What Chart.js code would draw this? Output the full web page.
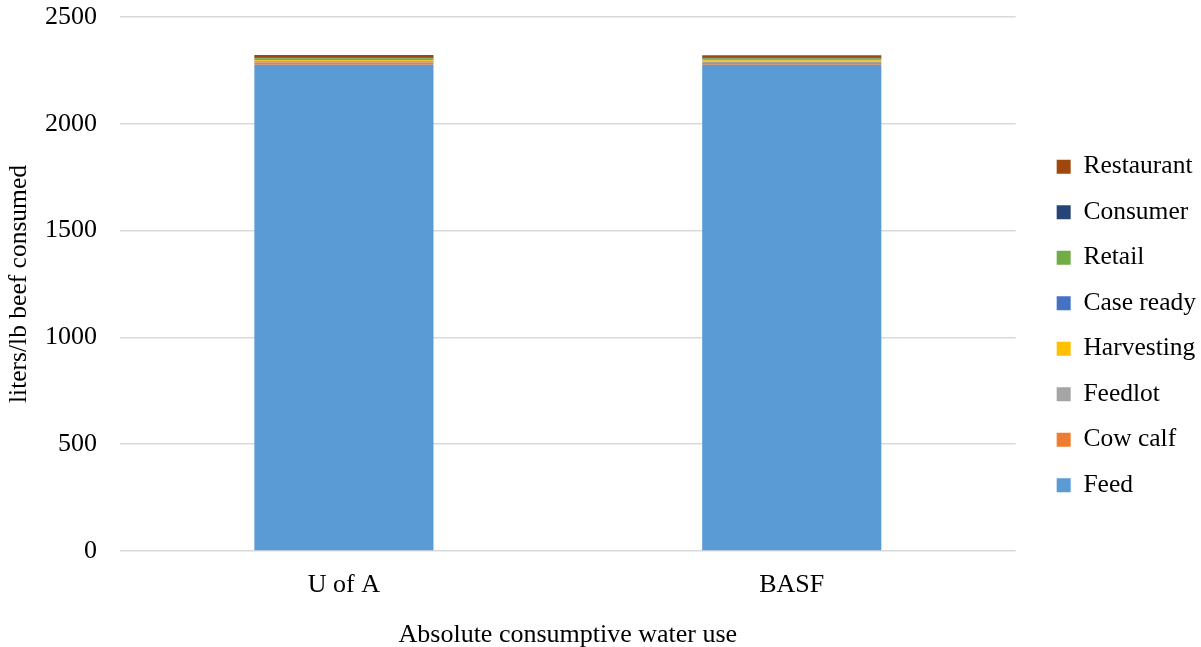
<!DOCTYPE html>
<html>
<head>
<meta charset="utf-8">
<script src="https://cdn.jsdelivr.net/npm/chart.js@4/dist/chart.umd.min.js"></script>
<style>
  html, body { margin: 0; padding: 0; background: #fff; }
  #wrap { width: 1201px; height: 647px; }
</style>
</head>
<body>
<div id="wrap"><canvas id="waterChart" width="1201" height="647"></canvas></div>
<script>
// chart data
const categories = ['U of A', 'BASF'];
const stages = ['Feed', 'Cow calf', 'Feedlot', 'Harvesting', 'Case ready', 'Retail', 'Consumer', 'Restaurant'];
const feed = [2277, 2276];
const cowCalf = [10, 9];
const feedlot = [7, 7];
const harvesting = [4, 5];
const caseReady = [4, 4];
const retail = [5, 5];
const consumer = [5, 5];
const restaurant = [10, 10];
const yTicks = [0, 500, 1000, 1500, 2000, 2500];

const stageColors = ['#5B9BD5', '#ED7D31', '#A5A5A5', '#FFC000', '#4472C4', '#70AD47', '#264478', '#9E480E'];
const stageValues = [feed, cowCalf, feedlot, harvesting, caseReady, retail, consumer, restaurant];

const serif = "'Liberation Serif', 'Times New Roman', serif";

const datasets = stages.map((name, i) => ({
    label: name,
    data: stageValues[i],
    backgroundColor: stageColors[i],
    borderWidth: 0,
    categoryPercentage: 0.8,
    barPercentage: 0.5
}));

// push the legend a bit away from the plot, like the original
const legendGap = {
    id: 'legendGap',
    afterLayout(chart) {
        const lg = chart.legend;
        if (lg) {
            lg.left = chart.chartArea.right + 21;
            lg.right = chart.width;
            lg.width = lg.right - lg.left;
            lg.top -= 6;
            lg.bottom -= 6;
        }
    }
};

new Chart(document.getElementById('waterChart'), {
    type: 'bar',
    data: { labels: categories, datasets },
    plugins: [legendGap],
    options: {
        responsive: false,
        animation: false,
        layout: { padding: { top: 17, right: 16, left: 0, bottom: 0 } },
        plugins: {
            tooltip: { enabled: false },
            legend: {
                position: 'right',
                reverse: true,
                labels: {
                    boxWidth: 14,
                    boxHeight: 14,
                    padding: 20,
                    color: '#000',
                    font: { family: serif, size: 25.5 }
                }
            }
        },
        scales: {
            x: {
                stacked: true,
                grid: { display: false },
                border: { display: false },
                ticks: { color: '#000', padding: 11, font: { family: serif, size: 26 } },
                title: {
                    display: true,
                    text: 'Absolute consumptive water use',
                    color: '#000',
                    padding: { top: 10, bottom: -4 },
                    font: { family: serif, size: 26 }
                },
                afterFit: (scale) => { scale.height = 96; }
            },
            y: {
                stacked: true,
                min: 0,
                max: 2500,
                afterBuildTicks: (scale) => { scale.ticks = yTicks.map(v => ({ value: v })); },
                grid: { color: '#d9d9d9', lineWidth: 1.5, drawTicks: false },
                border: { display: false },
                ticks: {
                    color: '#000',
                    padding: 23,
                    font: { family: serif, size: 26 },
                    callback: (v) => String(v)
                },
                title: {
                    display: true,
                    text: 'liters/lb beef consumed',
                    color: '#000',
                    padding: { top: 4, bottom: 0 },
                    font: { family: serif, size: 25.5 }
                },
                afterFit: (scale) => {
                    scale.width = 120;
                    scale.paddingTop = 0;
                    scale.paddingBottom = 0;
                }
            }
        }
    }
});
</script>
</body>
</html>
